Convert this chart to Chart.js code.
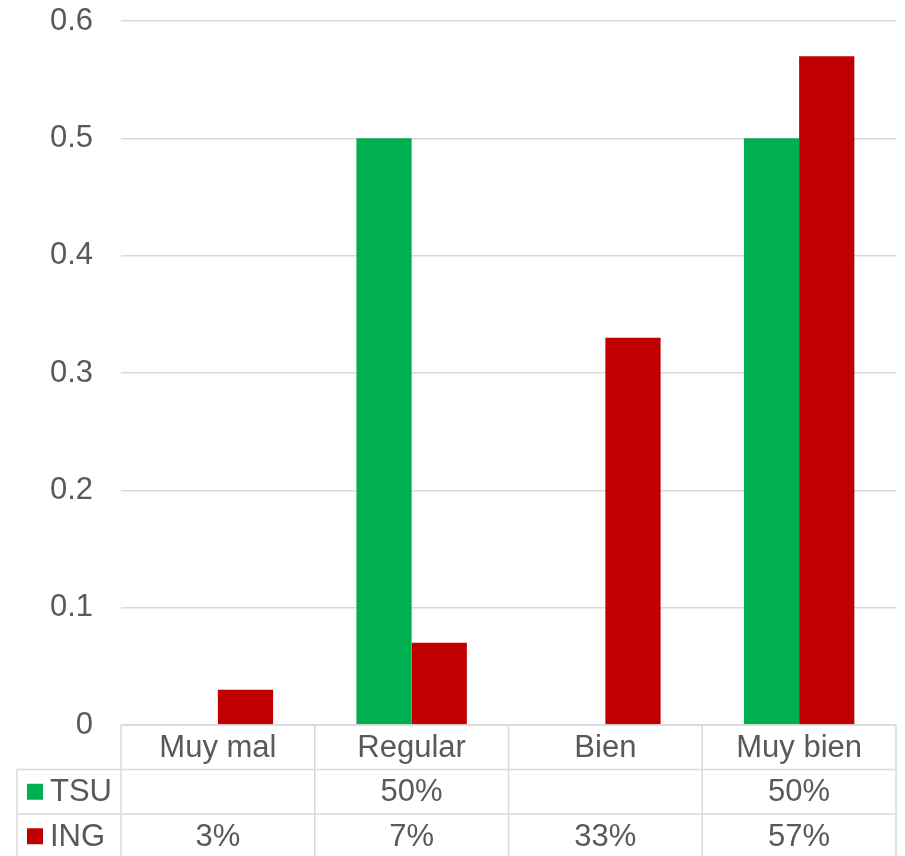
<!DOCTYPE html>
<html>
<head>
<meta charset="utf-8">
<script src="https://cdn.jsdelivr.net/npm/chart.js@4/dist/chart.umd.min.js"></script>
<style>
  html, body { margin: 0; padding: 0; background: #fff; }
  #wrap { width: 905px; height: 856px; }
</style>
</head>
<body>
<div id="wrap"><canvas id="grafico"></canvas></div>
<script>
// ─── DATA ────────────────────────────────────────────────
const categorias = ['Muy mal', 'Regular', 'Bien', 'Muy bien'];
const tsu = [null, 0.5, null, 0.5];
const ing = [0.03, 0.07, 0.33, 0.57];
const yTicks = ['0', '0.1', '0.2', '0.3', '0.4', '0.5', '0.6'];

const FONT = '"Liberation Sans", Arial, sans-serif';
const TXT = '#595959';
const LINEA = '#D9D9D9';

function fmtPct(v) {
  return v == null ? '' : Math.round(v * 100) + '%';
}

// ─── TABLA DE DATOS (debajo del grafico) ──────────────────
const tablaDatos = {
  id: 'tablaDatos',
  afterDraw(chart) {
    const ctx = chart.ctx;
    const area = chart.chartArea;
    const x = chart.scales.x;
    const n = categorias.length;
    const colW = (area.right - area.left) / n;
    const rowH = 44.5;
    const top = area.bottom;
    const fondo = chart.height;
    const izq = 17;

    ctx.save();
    ctx.strokeStyle = LINEA;
    ctx.lineWidth = 1.5;
    ctx.beginPath();
    ctx.moveTo(area.left, top);
    ctx.lineTo(area.right, top);
    for (let r = 1; r <= 2; r++) {
      ctx.moveTo(izq, top + r * rowH);
      ctx.lineTo(area.right, top + r * rowH);
    }
    for (let k = 0; k <= n; k++) {
      const bx = area.left + k * colW;
      ctx.moveTo(bx, top);
      ctx.lineTo(bx, fondo);
    }
    ctx.moveTo(izq, top + rowH);
    ctx.lineTo(izq, fondo);
    ctx.stroke();

    ctx.fillStyle = TXT;
    ctx.font = '31px ' + FONT;
    ctx.textAlign = 'center';
    ctx.textBaseline = 'middle';
    categorias.forEach((c, i) => {
      const cx = x.getPixelForValue(i);
      ctx.fillText(c, cx, top + rowH / 2 + 1);
      ctx.fillText(fmtPct(tsu[i]), cx, top + rowH * 1.5 + 1);
      ctx.fillText(fmtPct(ing[i]), cx, top + rowH * 2.5 + 1);
    });

    // leyenda en la tabla
    chart.data.datasets.forEach((ds, r) => {
      const cy = top + rowH * (r + 1.5);
      ctx.fillStyle = ds.backgroundColor;
      ctx.fillRect(27, cy - 8, 16, 16);
      ctx.fillStyle = TXT;
      ctx.textAlign = 'left';
      ctx.fillText(ds.label, 50, cy + 1);
    });
    ctx.restore();
  }
};

// ─── CHART ────────────────────────────────────────────────
new Chart(document.getElementById('grafico'), {
  type: 'bar',
  data: {
    labels: categorias,
    datasets: [
      { label: 'TSU', data: tsu, backgroundColor: '#00B050', borderWidth: 0 },
      { label: 'ING', data: ing, backgroundColor: '#C00000', borderWidth: 0 }
    ]
  },
  options: {
    responsive: true,
    maintainAspectRatio: false,
    animation: false,
    layout: { padding: { top: 21, right: 9, bottom: 0, left: 0 } },
    datasets: { bar: { categoryPercentage: 0.57, barPercentage: 1 } },
    plugins: {
      legend: { display: false },
      tooltip: { enabled: false }
    },
    scales: {
      x: {
        ticks: { display: false },
        grid: { display: false },
        border: { display: false },
        afterFit(s) { s.height = 131; }
      },
      y: {
        min: 0,
        max: 0.6,
        afterFit(s) {
          s.width = 121;
          s.paddingTop = 0;
          s.paddingBottom = 0;
        },
        ticks: {
          stepSize: 0.1,
          padding: 28,
          color: TXT,
          font: { family: FONT, size: 31 },
          callback: (v, i) => yTicks[i]
        },
        grid: { color: LINEA, lineWidth: 1.5, drawTicks: false },
        border: { display: false }
      }
    }
  },
  plugins: [tablaDatos]
});
</script>
</body>
</html>
